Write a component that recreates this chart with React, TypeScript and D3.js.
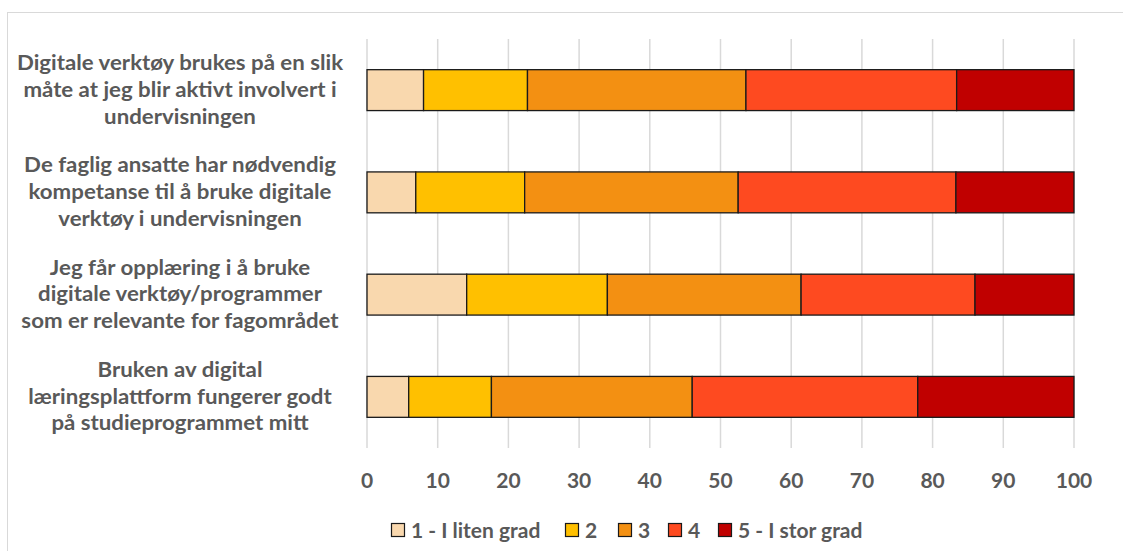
import React from "react";
import * as d3 from "d3";

const categories = [
  "Digitale verktøy brukes på en slik|måte at jeg blir aktivt involvert i|undervisningen",
  "De faglig ansatte har nødvendig|kompetanse til å bruke digitale|verktøy i undervisningen",
  "Jeg får opplæring i å bruke|digitale verktøy/programmer|som er relevante for fagområdet",
  "Bruken av digital|læringsplattform fungerer godt|på studieprogrammet mitt",
];
const seriesNames = ["1 - I liten grad", "2", "3", "4", "5 - I stor grad"];
const s1 = [8.0, 6.9, 14.1, 5.9];
const s2 = [14.7, 15.4, 19.9, 11.7];
const s3 = [30.9, 30.2, 27.4, 28.4];
const s4 = [29.8, 30.8, 24.6, 31.9];
const s5 = [16.6, 16.7, 14.0, 22.1];
const colors = ["#F9D8AE", "#FFC000", "#F39012", "#FE4A20", "#C00000"];
const ticks = [0, 10, 20, 30, 40, 50, 60, 70, 80, 90, 100];

const W = 1123;
const H = 551;
const FONT = "Lato, 'Open Sans', sans-serif";
const TXT = "#595959";
const legendX = [391, 565, 618, 668, 718];

export default function App() {
  const x = d3.scaleLinear().domain([0, 100]).range([367, 1074]);
  const y = d3.scaleBand<number>().domain(d3.range(categories.length)).range([39, 448]).paddingInner(0.6).paddingOuter(0.3);
  const all = [s1, s2, s3, s4, s5];
  const rows = categories.map((c, i) => {
    const o: any = { i };
    seriesNames.forEach((n, k) => (o[n] = all[k][i]));
    return o;
  });
  const stacked = d3.stack<any>().keys(seriesNames)(rows);

  return (
    <svg width={W} height={H} style={{ position: "absolute", left: 0, top: 0, background: "#fff" }}>
      <rect x={7.5} y={12.5} width={W + 10} height={H + 10} fill="#fff" stroke="#d9d9d9" strokeWidth={1} />
      {ticks.map((t) => (
        <line key={t} x1={x(t)} x2={x(t)} y1={39} y2={448} stroke="#d9d9d9" strokeWidth={1.5} />
      ))}
      {stacked.map((layer, k) => (
        <g key={k}>
          {layer.map((d, i) => (
            <rect
              key={i}
              x={x(d[0])}
              y={y(i)!}
              width={x(d[1]) - x(d[0])}
              height={y.bandwidth()}
              fill={colors[k]}
              stroke="#1a1a1a"
              strokeWidth={1.3}
            />
          ))}
        </g>
      ))}
      {categories.map((c, i) => {
        const lines = c.split("|");
        const cy = y(i)! + y.bandwidth() / 2;
        return lines.map((l, j) => (
          <text
            key={i + "-" + j}
            transform={`translate(180,${cy + (j - (lines.length - 1) / 2) * 26.7 - 1}) scale(1.06,1)`}
            textAnchor="middle"
            dominantBaseline="central"
            fontFamily={FONT}
            fontWeight="bold"
            fontSize={21}
            fill={TXT}
          >
            {l}
          </text>
        ));
      })}
      {ticks.map((t) => (
        <text
          key={t}
          x={x(t)}
          y={479.5}
          textAnchor="middle"
          dominantBaseline="central"
          fontFamily={FONT}
          fontWeight="bold"
          fontSize={21}
          fill={TXT}
        >
          {t}
        </text>
      ))}
      {seriesNames.map((n, k) => (
        <g key={n}>
          <rect x={legendX[k] + 0.5} y={523.5} width={13} height={13} fill={colors[k]} stroke="#1a1a1a" strokeWidth={1.2} />
          <text
            x={legendX[k] + 20}
            y={529.5}
            dominantBaseline="central"
            fontFamily={FONT}
            fontWeight="bold"
            fontSize={21}
            fill={TXT}
          >
            {n}
          </text>
        </g>
      ))}
    </svg>
  );
}
